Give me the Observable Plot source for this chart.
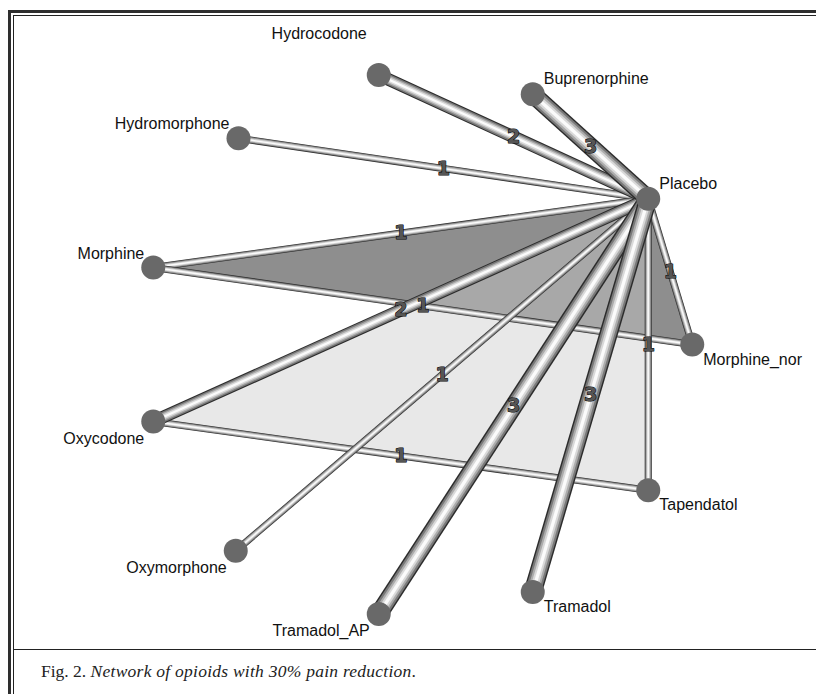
<!DOCTYPE html>
<html>
<head>
<meta charset="utf-8">
<script src="https://cdn.jsdelivr.net/npm/d3@7"></script>
<script src="https://cdn.jsdelivr.net/npm/@observablehq/plot@0.6"></script>
<style>
  body { margin:0; background:#fff; overflow:hidden; width:816px; height:694px; position:relative; }
  #outer { position:absolute; left:8px; top:10px; width:900px; height:800px; border:3px solid #2e2e2e; box-sizing:border-box; }
  #inner { position:absolute; left:13px; top:15px; width:900px; height:800px; border-left:1px solid #222; border-top:1px solid #222; box-sizing:border-box; }
  #chart { position:absolute; left:14px; top:16px; }
  #sep { position:absolute; left:13px; top:649px; width:900px; height:0; border-top:1.5px solid #222; }
  #caption { position:absolute; left:41px; top:661px; font:17.5px "Liberation Serif", "DejaVu Serif", serif; color:#222; white-space:nowrap; }
  #caption i { letter-spacing:0.25px; }
</style>
</head>
<body>
<div id="outer"></div>
<div id="inner"></div>
<div id="chart"></div>
<div id="sep"></div>
<div id="caption">Fig. 2. <i>Network of opioids with 30% pain reduction</i>.</div>
<script>
// Treatments and their layout coordinates
const nodeNames = ["Placebo","Morphine_nor","Tapendatol","Tramadol","Tramadol_AP","Oxymorphone","Oxycodone","Morphine","Hydromorphone","Hydrocodone","Buprenorphine"];
const nodeX = [0.85, 1.01, 0.85, 0.43, -0.13, -0.65, -0.95, -0.95, -0.64, -0.13, 0.43];
const nodeY = [0.53, 0.00, -0.53, -0.90, -0.98, -0.75, -0.28, 0.28, 0.75, 0.98, 0.91];

// Direct comparisons and number of studies
const edgeFrom = ["Hydromorphone","Morphine","Morphine","Morphine_nor","Oxycodone","Oxymorphone","Tapendatol","Hydrocodone","Oxycodone","Buprenorphine","Tramadol_AP","Tramadol"];
const edgeTo   = ["Placebo","Placebo","Morphine_nor","Placebo","Tapendatol","Placebo","Placebo","Placebo","Placebo","Placebo","Placebo","Placebo"];
const edgeStudies = [1,1,1,1,1,1,1,2,2,3,3,3];

// Multi-arm studies (shaded polygons)
const multiArmA = ["Morphine","Placebo","Morphine_nor"];
const multiArmB = ["Oxycodone","Placebo","Tapendatol"];

const pos = new Map(nodeNames.map((n, i) => [n, {x: nodeX[i], y: nodeY[i]}]));
const nodes = nodeNames.map((n, i) => ({name: n, x: nodeX[i], y: nodeY[i]}));
const edges = edgeFrom.map((f, i) => ({
  from: f, to: edgeTo[i], n: edgeStudies[i],
  x1: pos.get(f).x, y1: pos.get(f).y, x2: pos.get(edgeTo[i]).x, y2: pos.get(edgeTo[i]).y
}));
const polyA = multiArmA.map(n => pos.get(n));
const polyB = multiArmB.map(n => pos.get(n));

const tubeW = n => 1.5 + 5.6 * n;
const layers = [
  {k: 1.00, c: "#2c2c2c"},
  {k: 0.84, c: "#787878"},
  {k: 0.62, c: "#acacac"},
  {k: 0.40, c: "#d9d9d9"},
  {k: 0.18, c: "#fbfbfb"}
];

const marks = [
  Plot.line(polyA, {x: "x", y: "y", curve: "linear-closed", fill: "#8e8e8e", stroke: "none"}),
  Plot.line(polyB, {x: "x", y: "y", curve: "linear-closed", fill: "#cbcbcb", fillOpacity: 0.44, stroke: "none"})
];
for (const e of edges) {
  for (const L of layers) {
    marks.push(Plot.link([e], {x1: "x1", y1: "y1", x2: "x2", y2: "y2",
      stroke: L.c, strokeWidth: tubeW(e.n) * L.k, strokeLinecap: "butt"}));
  }
}
marks.push(Plot.text(edges, {
  x: d => (d.x1 + d.x2) / 2, y: d => (d.y1 + d.y2) / 2, text: d => String(d.n),
  fontSize: 19, fontWeight: "bold", fill: "#555", stroke: "#000", strokeWidth: 1.1,
  fontFamily: "DejaVu Sans"
}));
marks.push(Plot.dot(nodes, {x: "x", y: "y", r: 12, fill: "#696969", stroke: "none"}));

const labelStyle = {x: "x", y: "y", text: "name", fontSize: 16, fill: "#111",
  fontFamily: "Liberation Sans, Arial, sans-serif"};
const isTop = d => d.name === "Hydrocodone";
marks.push(Plot.text(nodes, {...labelStyle, filter: d => !isTop(d) && d.x > 0 && d.y > 0.01, dx: 11, dy: -15, textAnchor: "start"}));
marks.push(Plot.text(nodes, {...labelStyle, filter: d => !isTop(d) && d.x > 0 && d.y <= 0.01, dx: 11, dy: 15, textAnchor: "start"}));
marks.push(Plot.text(nodes, {...labelStyle, filter: d => !isTop(d) && d.x < 0 && d.y > 0.01, dx: -9, dy: -14, textAnchor: "end"}));
marks.push(Plot.text(nodes, {...labelStyle, filter: d => !isTop(d) && d.x < 0 && d.y <= 0.01, dx: -9, dy: 17, textAnchor: "end"}));
marks.push(Plot.text(nodes, {...labelStyle, filter: isTop, dx: -12, dy: -41, textAnchor: "end"}));

const chart = Plot.plot({
  width: 802, height: 633,
  style: {background: "transparent", overflow: "visible"},
  x: {domain: [-1, 1], range: [125, 675], axis: null},
  y: {domain: [-1, 1], range: [603, 53], axis: null},
  marks
});
document.getElementById("chart").appendChild(chart);
</script>
</body>
</html>
